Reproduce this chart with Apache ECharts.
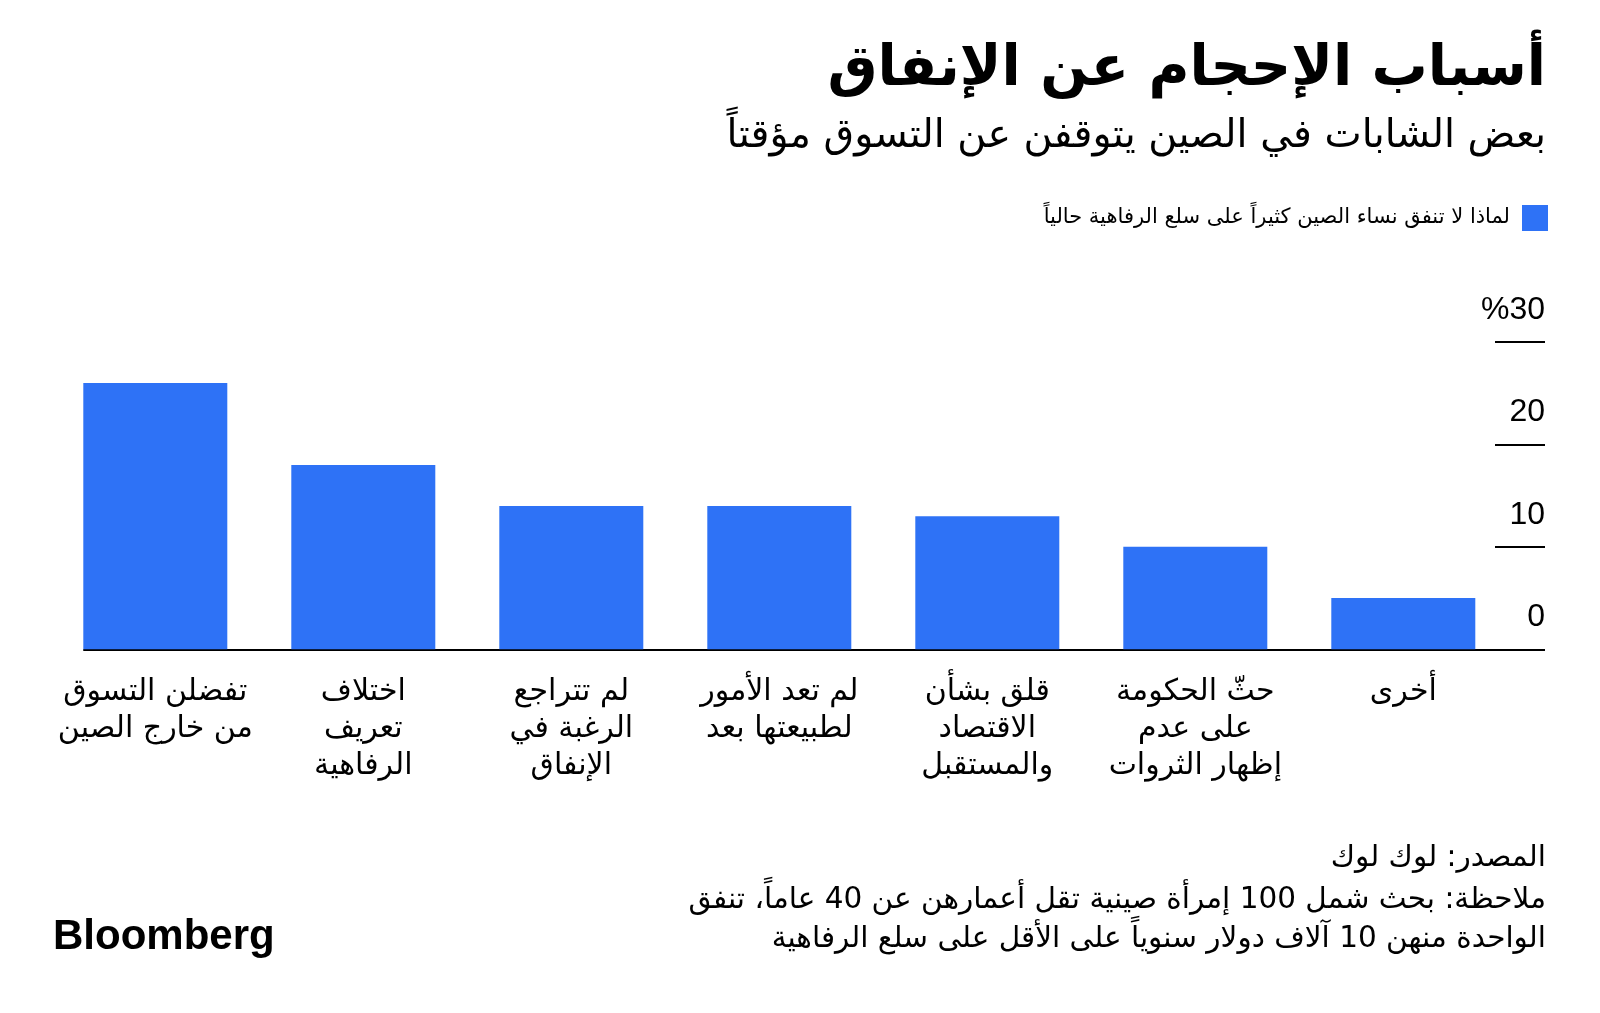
<!DOCTYPE html>
<html><head><meta charset="utf-8">
<script src="https://cdn.jsdelivr.net/npm/echarts@6/dist/echarts.min.js"></script>
<style>html,body{margin:0;padding:0;background:#fff}#c{width:1600px;height:1013px}</style>
</head><body><div id="c"></div>
<script>
const categories = [
  "تفضلن التسوق\nمن خارج الصين",
  "اختلاف\nتعريف\nالرفاهية",
  "لم تتراجع\nالرغبة في\nالإنفاق",
  "لم تعد الأمور\nلطبيعتها بعد",
  "قلق بشأن\nالاقتصاد\nوالمستقبل",
  "حثّ الحكومة\nعلى عدم\nإظهار الثروات",
  "أخرى"
];
const values = [26, 18, 14, 14, 13, 10, 5];
const seriesName = "لماذا لا تنفق نساء الصين كثيراً على سلع الرفاهية حالياً";
const yTicks = {30: "%30", 20: "20", 10: "10", 0: "0"};
const titleText = "أسباب الإحجام عن الإنفاق";
const subtitleText = "بعض الشابات في الصين يتوقفن عن التسوق مؤقتاً";
const footLines = [
  "المصدر: لوك لوك",
  "ملاحظة: بحث شمل 100 إمرأة صينية تقل أعمارهن عن 40 عاماً، تنفق",
  "الواحدة منهن 10 آلاف دولار سنوياً على الأقل على سلع الرفاهية"
];

const BLUE = '#2e72f6';
const AR = '"DejaVu Sans", "Noto Sans", sans-serif';
const footTops = [838, 880, 919];
const titles = [
  {text: titleText, right: 54, top: 42, padding: 0,
   textStyle: {fontFamily: AR, fontSize: 56, fontWeight: 'bold', color: '#000'}},
  {text: subtitleText, right: 54, top: 117, padding: 0,
   textStyle: {fontFamily: AR, fontSize: 39.5, fontWeight: 'normal', color: '#000'}},
  {text: 'Bloomberg', left: 53, top: 916, padding: 0,
   textStyle: {fontFamily: '"Liberation Sans", Arial, sans-serif', fontSize: 42, fontWeight: 'bold', color: '#000'}}
];
footLines.forEach((t, i) => titles.push({
  text: t, right: 54, top: footTops[i], padding: 0,
  textStyle: {fontFamily: AR, fontSize: 29.5, fontWeight: 'normal', color: '#000', lineHeight: 40}
}));

const chart = echarts.init(document.getElementById('c'), null, {renderer: 'canvas'});
chart.setOption({
  backgroundColor: '#fff',
  animation: false,
  title: titles,
  legend: {
    right: 52, top: 205, padding: 0, align: 'right', itemWidth: 26, itemHeight: 26, icon: 'rect', itemGap: 10,
    textStyle: {fontFamily: AR, fontSize: 21, color: '#000', padding: [0, 7, 0, 0]},
    data: [seriesName]
  },
  grid: [
    {left: 51.3, width: 1456, top: 342, bottom: 363.7},
    {left: 1495, right: 55, top: 342, bottom: 363.7},
    {left: 84, right: 57, top: 342, bottom: 363.7}
  ],
  xAxis: [
    {type: 'category', gridIndex: 0, data: categories, boundaryGap: true,
     axisLine: {show: false}, axisTick: {show: false},
     axisLabel: {interval: 0, margin: 24, fontFamily: AR, fontSize: 30, lineHeight: 37, color: '#000', verticalAlign: 'top'}},
    {type: 'value', gridIndex: 1, min: 0, max: 1, show: false},
    {type: 'value', gridIndex: 2, min: 0, max: 1,
     axisLine: {show: true, lineStyle: {color: '#000', width: 2}}, axisTick: {show: false},
     axisLabel: {show: false}, splitLine: {show: false}}
  ],
  yAxis: [
    {type: 'value', gridIndex: 0, min: 0, max: 30, interval: 10, show: false},
    {type: 'value', gridIndex: 1, min: 0, max: 30, interval: 10, position: 'right',
     axisLine: {show: false}, axisTick: {show: false},
     splitLine: {show: true, lineStyle: {color: '#000', width: 2}},
     axisLabel: {inside: true, margin: 0, fontFamily: '"Liberation Sans", Arial, sans-serif', fontSize: 32,
       color: '#000', verticalAlign: 'bottom', padding: [0, 0, 16, 0],
       formatter: v => yTicks[v] !== undefined ? yTicks[v] : String(v)}},
    {type: 'value', gridIndex: 2, min: 0, max: 30, interval: 10, show: false}
  ],
  series: [
    {name: seriesName, type: 'bar', xAxisIndex: 0, yAxisIndex: 0, data: values, barWidth: 144,
     itemStyle: {color: BLUE}, z: 1}
  ]
});
</script></body></html>
